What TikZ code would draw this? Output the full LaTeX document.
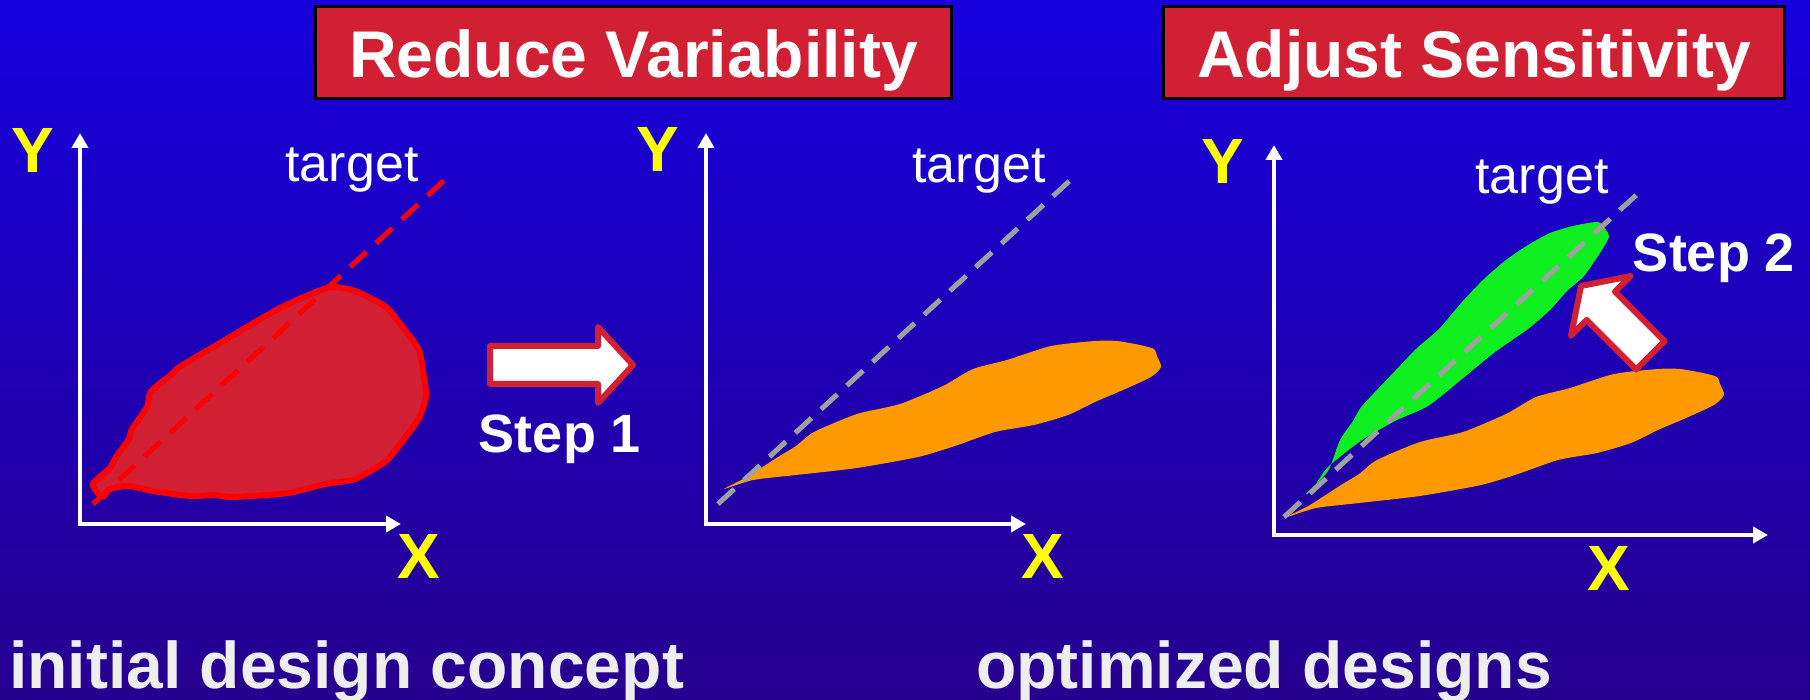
\documentclass[tikz,border=0pt]{standalone}
\usepackage{fontspec}
\setmainfont{Liberation Sans}
\usetikzlibrary{arrows.meta,positioning}
\definecolor{Sky}{HTML}{1600DE}
\definecolor{Night}{HTML}{26008E}
\definecolor{Crimson}{HTML}{D11F33}
\definecolor{Lemon}{HTML}{FFFF00}
\definecolor{Carrot}{HTML}{FF9900}
\definecolor{Lime}{HTML}{10F020}
\definecolor{Ash}{HTML}{A0A0A0}
\definecolor{Chalk}{HTML}{EEEEEE}
\tikzset{
  banner/.style={
    draw=black,line width=3pt,fill=Crimson,text=white,
    minimum height=92pt,inner sep=0pt,text height=51pt,text depth=0pt,
    font=\fontsize{66pt}{70pt}\selectfont\bfseries
  },
  axis/.style={
    arrows={Triangle[length=15pt,width=16pt]-Triangle[length=15pt,width=16pt]},
    draw=white,line width=4pt
  },
  letter/.style={anchor=base,inner sep=0pt,text=Lemon,font=\fontsize{64pt}{64pt}\selectfont\bfseries},
  goal/.style={anchor=base,inner sep=0pt,text=white,font=\fontsize{52pt}{52pt}\selectfont},
  goalline/.style={line width=5pt,dash pattern=on 22pt off 13pt},
  stepnote/.style={anchor=base,inner sep=0pt,text=white,font=\fontsize{54pt}{54pt}\selectfont\bfseries},
  caption/.style={anchor=base west,inner sep=0pt,text=Chalk,font=\fontsize{66pt}{66pt}\selectfont\bfseries},
  blockarrow/.style={draw=Crimson,fill=white,line width=6pt,line join=round},
  carrotleaf/.pic={
    \fill[Carrot] plot[smooth cycle,tension=.4] coordinates {
      (724,489) (747,477) (778,457) (796,446) (814,432) (857,414) (900,404)
      (943,386) (973,369) (1007,360) (1051,346) (1095,341) (1117,341)
      (1140,345) (1154,349) (1157,356) (1161,367) (1151,377) (1123,390)
      (1095,402) (1068,415) (1034,425) (995,432) (955,446) (918,457)
      (857,468) (796,475) (753,480)};
  }
}

\begin{document}
\begin{tikzpicture}[x=1pt,y=-1pt]
  \shade[top color=Sky,bottom color=Night] (0,0) rectangle (1810,700);
  \useasboundingbox (0,0) rectangle (1810,700);

  \node[banner,minimum width=636pt] (reduce) at (633.5,52.5) {Reduce Variability};
  \node[banner,minimum width=621pt] (adjust) at (1474,52.5) {Adjust Sensitivity};

  % axes
  \coordinate (o1) at (80,524);   \coordinate (ytip1) at (80,133);   \coordinate (xtip1) at (401,524);
  \coordinate (o2) at (706,524);  \coordinate (ytip2) at (706,133);  \coordinate (xtip2) at (1026,524);
  \coordinate (o3) at (1274,535); \coordinate (ytip3) at (1274,145); \coordinate (xtip3) at (1768,535);
  \draw[axis] (ytip1) -- (o1) -- (xtip1);
  \draw[axis] (ytip2) -- (o2) -- (xtip2);
  \draw[axis] (ytip3) -- (o3) -- (xtip3);

  % design clouds
  \filldraw[fill=Crimson,draw=red,line width=6pt,line join=round]
    plot[smooth cycle,tension=.4] coordinates {
      (93,484) (110,468) (116,457) (129,439) (132,429) (147,407) (150,393)
      (159,384) (171,375) (178,368) (196,357) (220,343) (257,321) (282,307)
      (306,296) (331,287) (355,291) (386,307) (404,329) (419,350) (423,371)
      (426,396) (419,418) (404,439) (386,461) (355,479) (325,484) (288,493)
      (233,497) (214,495) (190,496) (153,491) (129,486) (110,489) (102,497)};
  \pic (leaf2) at (0,0) {carrotleaf};
  \pic (leaf3) at (563,28) {carrotleaf};
  \fill[Lime] plot[smooth cycle,tension=.4] coordinates {
      (1306,494) (1328,471) (1340,440) (1353,421) (1362,406) (1395,371)
      (1417,348) (1439,329) (1462,302) (1484,279) (1506,260) (1528,245)
      (1550,233) (1573,226) (1598,222) (1606,230) (1609,237) (1600,253)
      (1584,276) (1567,291) (1550,310) (1528,329) (1495,352) (1462,379)
      (1428,406) (1395,421) (1362,440) (1328,467) (1312,490)};

  % target lines
  \coordinate (gs1) at (93,504);   \coordinate (ge1) at (450,175);
  \coordinate (gs2) at (718,504);  \coordinate (ge2) at (1076,175);
  \coordinate (gs3) at (1284,517); \coordinate (ge3) at (1644,188);
  \draw[goalline,red] (gs1) -- (ge1);
  \draw[goalline,Ash] (gs2) -- (ge2);
  \draw[goalline,Ash] (gs3) -- (ge3);
  \node[goal] (target1) at (352,182) {target};
  \node[goal] (target2) at (979,183) {target};
  \node[goal] (target3) at (1542,194) {target};

  \node[letter] (y1) at (33,173) {Y};
  \node[letter] (y2) at (658,172) {Y};
  \node[letter] (y3) at (1223,184) {Y};
  \node[letter] (x1) at (419,578) {X};
  \node[letter] (x2) at (1043,578) {X};
  \node[letter] (x3) at (1609,590) {X};

  % steps
  \draw[blockarrow] (490,346) -- (598,346) -- (598,327) -- (633,365)
    -- (598,403) -- (598,384) -- (490,384) -- cycle;
  \node[stepnote] (step1) at (560,452) {Step 1};
  \begin{scope}[shift={(1581,286)},rotate=135]
    \draw[blockarrow] (0,0) -- (-28,42) -- (-28,20) -- (-98,20)
      -- (-98,-20) -- (-28,-20) -- (-28,-42) -- cycle;
  \end{scope}
  \node[stepnote] (step2) at (1714,272) {Step 2};

  \node[caption] (initial) at (9,688) {initial design concept};
  \node[caption] (optimized) at (976,688) {optimized designs};
\end{tikzpicture}
\end{document}
